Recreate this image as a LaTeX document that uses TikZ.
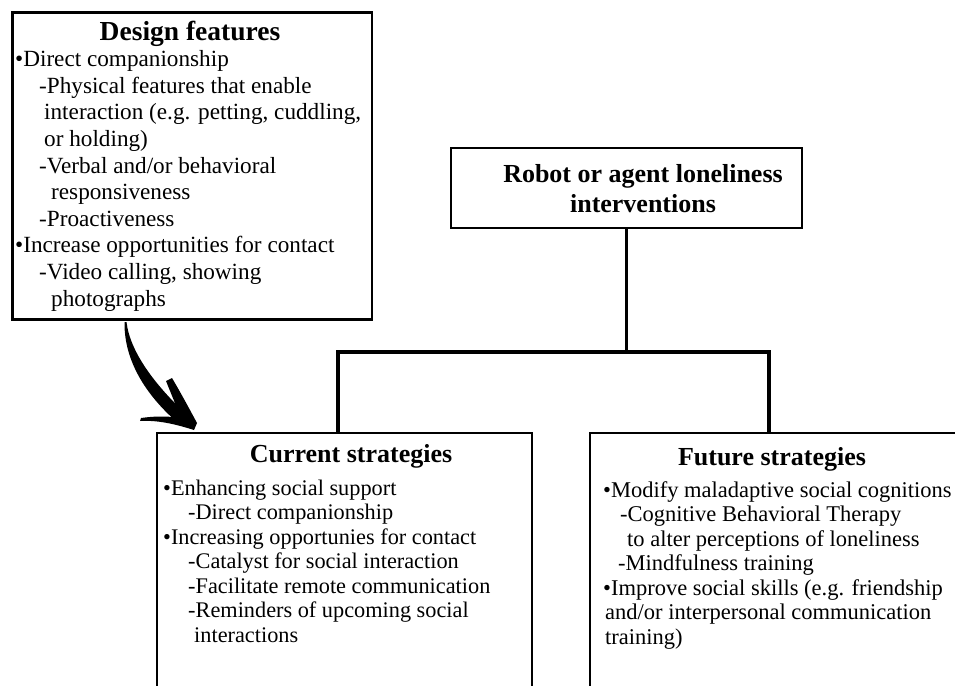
\documentclass[tikz,border=0pt]{standalone}
\usepackage{fontspec}
\setmainfont{Liberation Serif}
\begin{document}
\begin{tikzpicture}[x=1pt,y=-1pt,
  box/.style={draw,line width=2.4pt,rectangle,inner sep=0pt},
  conn/.style={line width=3.4pt,line join=miter},
  ttl/.style={anchor=base,inner sep=0pt,font=\fontsize{26}{30}\selectfont\bfseries},
  body/.style={anchor=base west,inner sep=0pt}]
\useasboundingbox (0,0) rectangle (955,685);
\fill[white] (0,0) rectangle (955,685);
\begin{scope}
\clip (0,0) rectangle (955,685);
% boxes
\node[box,minimum width=359.5pt,minimum height=307pt] (design) at (192.25,166) {};
\node[box,minimum width=351pt,minimum height=80pt] (robot) at (626.5,188) {};
\node[box,minimum width=375pt,minimum height=287pt] (current) at (344.5,576.5) {};
\node[box,minimum width=390pt,minimum height=287pt] (future) at (785,576.5) {};
% titles
\node[ttl,font=\fontsize{27.5}{30}\selectfont\bfseries] (designtitle) at (190,41) {Design features};
\node[ttl] (robottitle) at (643,182) {\parbox[t]{340pt}{\centering Robot or agent loneliness\\ interventions}};
\node[ttl] (currenttitle) at (351,462) {Current strategies};
\node[ttl] (futuretitle) at (772,465) {Future strategies};
% bodies
\node[body] (designbody) at (15,66.7) {\parbox[t]{500pt}{\fontsize{23.2}{26.6}\selectfont\raggedright
•Direct companionship\\
\hspace*{24pt}-Physical features that enable\\
\hspace*{29pt}interaction (e.g. petting, cuddling,\\
\hspace*{29pt}or holding)\\
\hspace*{24pt}-Verbal and/or behavioral\\
\hspace*{36pt}responsiveness\\
\hspace*{24pt}-Proactiveness\\
•Increase opportunities for contact\\
\hspace*{24pt}-Video calling, showing\\
\hspace*{36pt}photographs}};
\node[body] (currentbody) at (163,495) {\parbox[t]{500pt}{\fontsize{22.3}{24.5}\selectfont\raggedright
•Enhancing social support\\
\hspace*{25pt}-Direct companionship\\
•Increasing opportunies for contact\\
\hspace*{25pt}-Catalyst for social interaction\\
\hspace*{25pt}-Facilitate remote communication\\
\hspace*{25pt}-Reminders of upcoming social\\
\hspace*{31pt}interactions}};
\node[body] (futurebody) at (603,497) {\parbox[t]{500pt}{\fontsize{22.5}{24.5}\selectfont\raggedright
•Modify maladaptive social cognitions\\
\hspace*{17pt}-Cognitive Behavioral Therapy\\
\hspace*{24pt}to alter perceptions of loneliness\\
\hspace*{15pt}-Mindfulness training\\
•Improve social skills (e.g. friendship\\
\hspace*{2pt}and/or interpersonal communication\\
\hspace*{2pt}training)}};
% connectors
\coordinate (jl) at (338,352);
\coordinate (jr) at (769,352);
\draw[conn] (robot.south) -- (robot.south |- jl);
\draw[conn] (current.north -| jl) -- (jl) -- (jr) -- (future.north -| jr);
% brush arrow from design features to current strategies
\fill (124.5,322) .. controls (124,355) and (140,390) .. (178,423) -- (187,415) .. controls (155,385) and (130,352) .. (126.5,322) -- cycle;
\fill (194,430) .. controls (175,424) and (158,420) .. (140,421) -- (141,418) .. controls (155,416) and (168,416) .. (181,418) -- (166,381) -- (172,378) .. controls (182,395) and (190,410) .. (197,423) -- cycle;
\end{scope}
\end{tikzpicture}
\end{document}
